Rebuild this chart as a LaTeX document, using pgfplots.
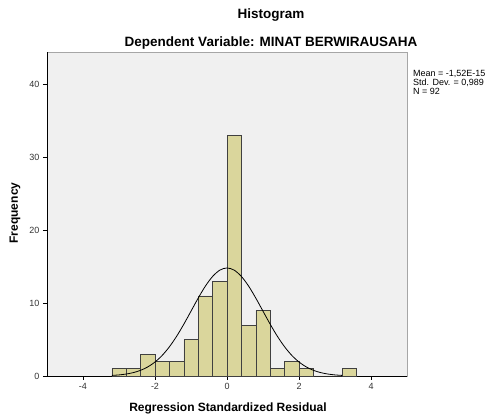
\documentclass[border=0pt]{standalone}
\usepackage{pgfplots}
\pgfplotsset{compat=1.18}
\usepackage{fontspec}
\setmainfont{Liberation Sans}
\definecolor{barcol}{RGB}{218,214,156}
\definecolor{bgcol}{RGB}{240,240,240}
\begin{document}
\begin{tikzpicture}
\useasboundingbox (-47pt,-43pt) rectangle (442pt,376pt);
\begin{axis}[
  at={(0,0)}, anchor=south west,
  scale only axis, width=360pt, height=324pt,
  xmin=-5, xmax=5, ymin=0, ymax=44.5,
  axis x line*=bottom, axis y line*=left,
  axis line style={black, line width=0.7pt},
  axis background/.style={fill=bgcol, draw=black!35},
  xtick={-4,-2,0,2,4}, ytick={0,10,20,30,40},
  tick align=outside, major tick length=4pt,
  tick style={black, line width=0.6pt},
  /pgf/number format/assume math mode=true,
  ticklabel style={font=\fontsize{9}{10}\selectfont, text=black!80},
  clip=false,
]
\addplot[ybar interval, fill=barcol, draw=black!75, line width=0.5pt] coordinates {
(-3.2,1) (-2.8,1) (-2.4,3) (-2.0,2) (-1.6,2) (-1.2,5) (-0.8,11) (-0.4,13)
(0.0,33) (0.4,7) (0.8,9) (1.2,1) (1.6,2) (2.0,1) (2.4,0) (2.8,0) (3.2,1) (3.6,0)
};
\addplot[smooth, black, line width=0.8pt] coordinates {
(-3.2,0.079) (-3.0,0.149) (-2.8,0.270) (-2.6,0.469) (-2.4,0.781) (-2.2,1.25)
(-2.0,1.92) (-1.8,2.83) (-1.6,4.01) (-1.4,5.45) (-1.2,7.11) (-1.0,8.90)
(-0.8,10.70) (-0.6,12.35) (-0.4,13.67) (-0.2,14.54) (0.0,14.84)
(0.2,14.54) (0.4,13.67) (0.6,12.35) (0.8,10.70) (1.0,8.90) (1.2,7.11)
(1.4,5.45) (1.6,4.01) (1.8,2.83) (2.0,1.92) (2.2,1.25) (2.4,0.781)
(2.6,0.469) (2.8,0.270) (3.0,0.149) (3.2,0.079)
};
\end{axis}
\node[font=\fontsize{13.5}{15}\selectfont\bfseries] at (224pt,361pt) {Histogram};
\node[font=\fontsize{13.5}{15}\selectfont\bfseries] at (224pt,333pt) {Dependent Variable: MINAT BERWIRAUSAHA};
\node[font=\fontsize{12}{14}\selectfont\bfseries] at (181pt,-32pt) {Regression Standardized Residual};
\node[font=\fontsize{12}{14}\selectfont\bfseries, rotate=90] at (-32pt,163pt) {Frequency};
\node[anchor=north west, align=left, font=\fontsize{9}{9.2}\selectfont, inner sep=0pt] at (366pt,306pt) {Mean = -1,52E-15\\Std. Dev. = 0,989\\N = 92};
\end{tikzpicture}
\end{document}
